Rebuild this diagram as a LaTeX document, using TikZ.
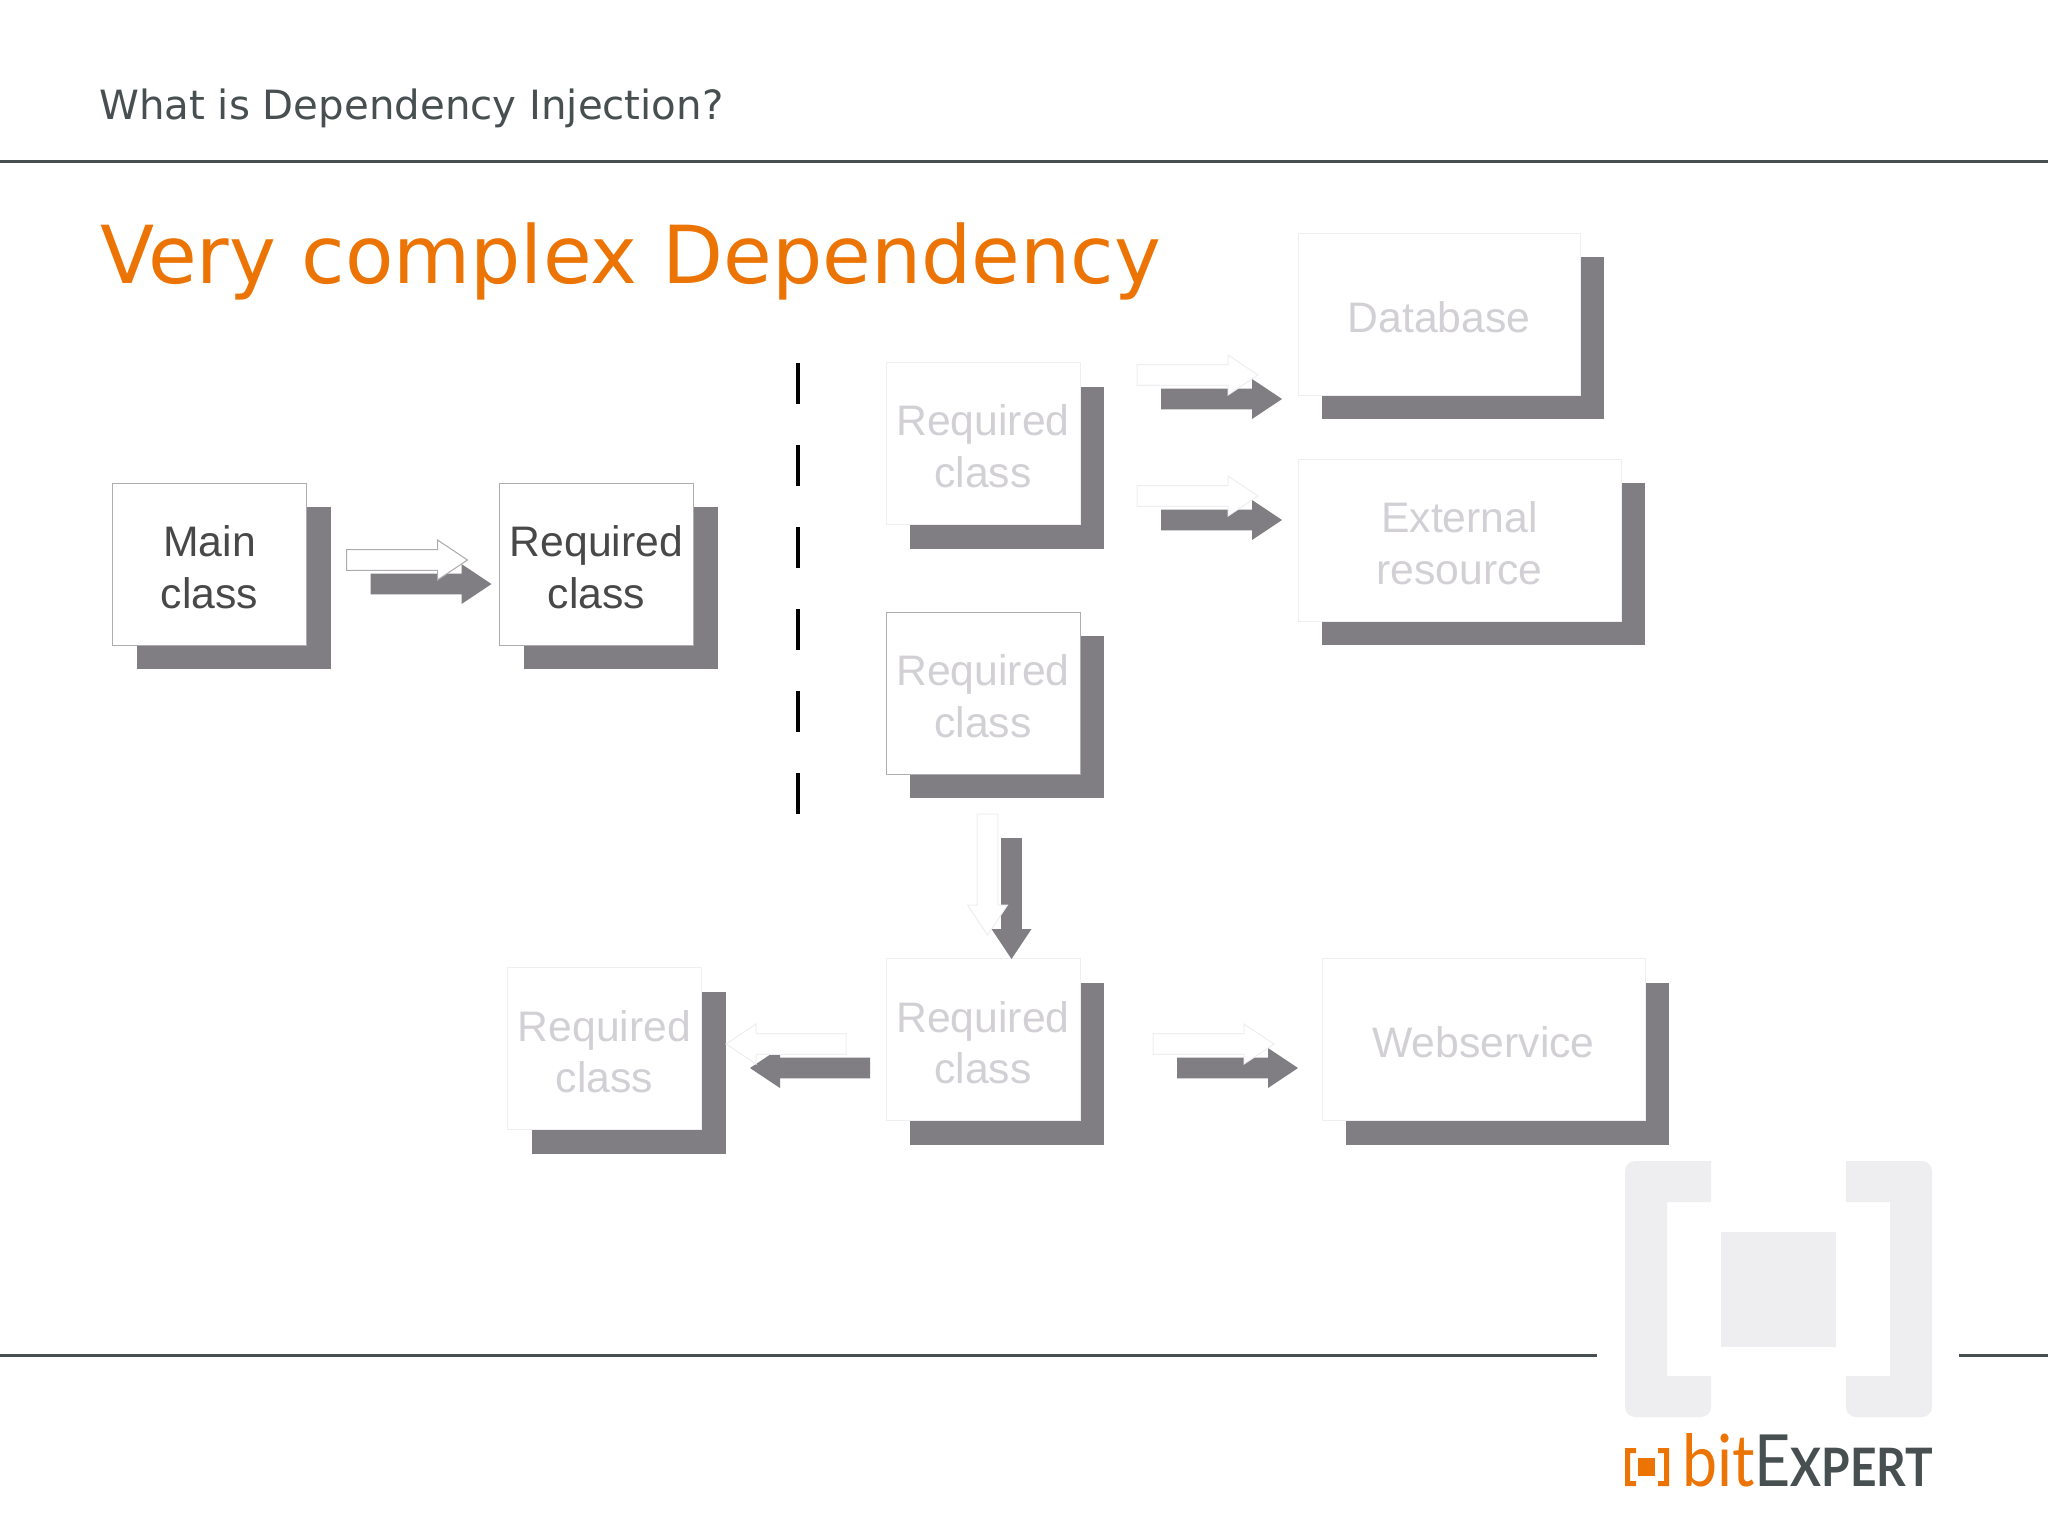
\documentclass[tikz,border=0pt]{standalone}
\usepackage{fontspec}
\usepackage{tikz}
\usetikzlibrary{calc, shadows}
\setmainfont{Liberation Sans}
\newfontfamily\slidefont{DejaVu Sans}
\newfontfamily\logofont{Lato}
\definecolor{slate}{HTML}{474F50}
\definecolor{brand}{HTML}{EC7405}
\definecolor{shadowgray}{HTML}{807E82}
\definecolor{activeedge}{HTML}{AEACB0}
\definecolor{activetext}{HTML}{484848}
\definecolor{fadededge}{HTML}{EFEEF2}
\definecolor{fadedtext}{HTML}{D2D0D5}
\definecolor{logogray}{HTML}{EEEDF0}

\tikzset{
    classbox/.style={draw=activeedge, fill=white, line width=1pt, inner sep=0pt,
        minimum width=194pt, minimum height=162pt, align=center, text=activetext,
        font=\fontsize{42.7}{51.6}\selectfont,
        general shadow={shadow xshift=24pt, shadow yshift=-24pt, fill=shadowgray}},
    faded/.style={draw=fadededge, text=fadedtext},
    hollowarrow/.style={draw=activeedge, fill=white, line width=1pt},
    fadedarrow/.style={draw=fadededge, fill=white, line width=1pt},
    solidarrow/.style={fill=shadowgray},
    rule/.style={slate, line width=3pt}
}

% pushes the text of a box down a little
\newcommand{\lowered}{\rule{0pt}{37pt}}
% arrow outline: style, from, to
\newcommand{\arrowshape}[3]{
    \coordinate (neck) at ($(#3)!30pt!(#2)$);
    \path[#1] ($(#2)!10.3pt!90:(#3)$) -- ($(neck)!10.3pt!90:(#3)$) -- ($(neck)!20pt!90:(#3)$)
        -- (#3) -- ($(neck)!20pt!-90:(#3)$) -- ($(neck)!10.3pt!-90:(#3)$)
        -- ($(#2)!10.3pt!-90:(#3)$) -- cycle;
}
% shadow arrow first, then the outlined one on top of it
\newcommand{\blockarrow}[3]{
    \coordinate (from) at ($(#2)+(24,24)$);
    \coordinate (to) at ($(#3)+(24,24)$);
    \arrowshape{solidarrow}{from}{to}
    \arrowshape{#1}{#2}{#3}
}

\begin{document}
\begin{tikzpicture}[x=1pt, y=-1pt]
    \useasboundingbox[fill=white] (0,0) rectangle (2048,1536);

    % header and footer
    \node[anchor=base west, inner sep=0pt, text=slate, font=\fontsize{40.3}{48}\slidefont] (header) at (99,120) {What is Dependency Injection?};
    \node[anchor=base west, inner sep=0pt, text=brand, xscale=0.99, font=\fontsize{80}{96}\slidefont] (title) at (100,283) {Very complex Dependency};
    \draw[rule] (0,161.5) -- (2048,161.5);
    \draw[rule] (0,1355) -- (1597,1355);
    \draw[rule] (1959,1355) -- (2048,1355);

    % logo
    \fill[logogray] (1711,1161) [rounded corners=10pt] -- (1625,1161) -- (1625,1417) -- (1711,1417) [sharp corners] -- (1711,1376) -- (1667,1376) -- (1667,1202) -- (1711,1202) -- cycle;
    \fill[logogray] (1846,1161) [rounded corners=10pt] -- (1932,1161) -- (1932,1417) -- (1846,1417) [sharp corners] -- (1846,1376) -- (1890,1376) -- (1890,1202) -- (1846,1202) -- cycle;
    \fill[logogray] (1721,1232) rectangle (1836,1347);
    \fill[brand] (1636,1448) -- (1625,1448) -- (1625,1486) -- (1636,1486) -- (1636,1481) -- (1630,1481) -- (1630,1453) -- (1636,1453) -- cycle;
    \fill[brand] (1658,1448) -- (1669,1448) -- (1669,1486) -- (1658,1486) -- (1658,1481) -- (1664,1481) -- (1664,1453) -- (1658,1453) -- cycle;
    \fill[brand] (1638,1458) rectangle (1655,1476);
    \node[anchor=base west, inner sep=0pt, xscale=0.87, font=\logofont] (logotext) at (1682,1486)
        {\fontsize{72}{72}\selectfont\color{brand}bit\color{slate}E\fontsize{53}{53}\selectfont\bfseries XPERT};

    % class boxes
    \node[classbox] (main) at (209.5,564) {\lowered Main\\class};
    \node[classbox] (req) at (596.5,564) {\lowered Required\\class};
    \node[classbox, faded] (reqa) at (983,443.5) {\lowered Required\\class};
    \node[classbox, draw=activeedge, text=fadedtext] (reqb) at (983,693) {\lowered Required\\class};
    \node[classbox, faded] (reqc) at (983,1039.5) {\lowered Required\\class};
    \node[classbox, faded] (reqd) at (604.5,1048.5) {\lowered Required\\class};
    \node[classbox, faded, minimum width=282pt] (db) at (1439,314) {\lowered Database};
    \node[classbox, faded, minimum width=323pt] (ext) at (1459.5,540) {\lowered External\\resource};
    \node[classbox, faded, minimum width=323pt] (web) at (1483.5,1039.5) {\lowered Webservice};

    % dashed separator
    \coordinate (sepa) at (798,363);
    \coordinate (sepb) at (798,814);
    \draw[black, line width=4.5pt, dash pattern=on 41pt off 41pt] (sepa) -- (sepb);

    % arrow ends
    \coordinate (aa) at (346.5,560);
    \coordinate (ab) at (467.5,560);
    \coordinate (ba) at (1137,375);
    \coordinate (bb) at (1258,375);
    \coordinate (ca) at (1137,496);
    \coordinate (cb) at (1258,496);
    \coordinate (da) at (987.5,814);
    \coordinate (db2) at (987.5,935);
    \coordinate (ea) at (846,1044);
    \coordinate (eb) at (726,1044);
    \coordinate (fa) at (1153,1044);
    \coordinate (fb) at (1274,1044);

    \blockarrow{hollowarrow}{aa}{ab}
    \blockarrow{fadedarrow}{ba}{bb}
    \blockarrow{fadedarrow}{ca}{cb}
    \blockarrow{fadedarrow}{da}{db2}
    \blockarrow{fadedarrow}{ea}{eb}
    \blockarrow{fadedarrow}{fa}{fb}
\end{tikzpicture}
\end{document}
